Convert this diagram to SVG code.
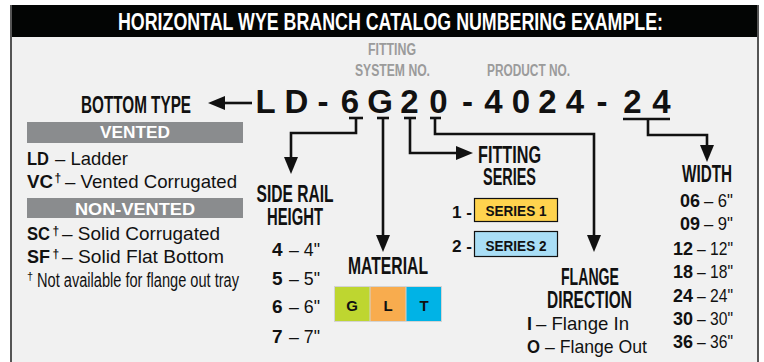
<svg xmlns="http://www.w3.org/2000/svg" width="764" height="362" viewBox="0 0 764 362">
<style>
.hd{font-family:"Liberation Sans",Arial,sans-serif;font-weight:bold;font-size:23px;fill:#111}
.gr{font-family:"Liberation Sans",Arial,sans-serif;font-weight:bold;font-size:16px;fill:#9b9b9b}
.tx{font-family:"Liberation Sans",Arial,sans-serif;font-size:19px;fill:#111}
.tb{font-family:"Liberation Sans",Arial,sans-serif;font-size:19px;font-weight:bold;fill:#111}
.sup{font-family:"Liberation Sans",Arial,sans-serif;font-size:12px;font-weight:bold;fill:#111}
.code{font-family:"Liberation Sans",Arial,sans-serif;font-weight:bold;font-size:33px;fill:#111}
.bar{font-family:"Liberation Sans",Arial,sans-serif;font-weight:bold;font-size:16px;fill:#fff}
.ser{font-family:"Liberation Sans",Arial,sans-serif;font-weight:bold;font-size:14px;fill:#111}
.ln{fill:none;stroke:#111;stroke-width:2.6}
</style>
<defs>
<marker id="ah" markerUnits="userSpaceOnUse" markerWidth="17" markerHeight="14" refX="0" refY="7" orient="auto" viewBox="0 0 17 14">
<path d="M0,0 L17,7 L0,14 z" fill="#111"/>
</marker>
</defs>
<rect x="0" y="0" width="764" height="362" fill="#fff"/>
<rect x="11" y="5" width="747" height="357" fill="#f1f1f1"/>
<rect x="11" y="5" width="747" height="32" fill="#030504"/>
<line x1="11" y1="5" x2="11" y2="362" stroke="#555" stroke-width="2"/>
<line x1="758" y1="5" x2="758" y2="362" stroke="#555" stroke-width="2"/>
<g id="title">
<text transform="scale(0.75,1)" x="157.33" y="30" font-family="Liberation Sans,Arial,sans-serif" font-weight="bold" font-size="23.5" fill="#fff" textLength="726.7" lengthAdjust="spacingAndGlyphs">HORIZONTAL WYE BRANCH CATALOG NUMBERING EXAMPLE:</text>
</g>
<g id="labels-top">
<text class="gr" x="368" y="55" textLength="48" lengthAdjust="spacingAndGlyphs">FITTING</text>
<text class="gr" x="355" y="76" textLength="75" lengthAdjust="spacingAndGlyphs">SYSTEM NO.</text>
<text class="gr" x="487" y="76" textLength="83" lengthAdjust="spacingAndGlyphs">PRODUCT NO.</text>
</g>
<g id="code">
<text class="code" y="113" text-anchor="middle" x="265.5 296.5 323 350 380 409.5 438.5 467.5 493.5 521 547.5 575 602 632.5 661.5">LD-6G20-4024-24</text>
</g>
<g id="connectors">
<path class="ln" d="M252,103 H225" marker-end="url(#ah)"/>
<line class="ln" x1="349" y1="118" x2="363" y2="118"/>
<path class="ln" d="M356,118 V133 H291 V157" marker-end="url(#ah)"/>
<line class="ln" x1="377" y1="118" x2="389" y2="118"/>
<path class="ln" d="M383,118 V235" marker-end="url(#ah)"/>
<line class="ln" x1="404" y1="118" x2="416" y2="118"/>
<path class="ln" d="M410,118 V153 H456" marker-end="url(#ah)"/>
<line class="ln" x1="430" y1="118" x2="441" y2="118"/>
<path class="ln" d="M435,118 V134 H594 V235" marker-end="url(#ah)"/>
<line class="ln" x1="623" y1="119" x2="670" y2="119"/>
<path class="ln" d="M648,119 V135 H707 V145" marker-end="url(#ah)"/>
</g>
<g id="bottom-type">
<text class="hd" x="81" y="113" textLength="110" lengthAdjust="spacingAndGlyphs">BOTTOM TYPE</text>
<rect x="27" y="122" width="216" height="21" fill="#8a8c8e"/>
<text class="bar" x="135" y="138" text-anchor="middle" textLength="70" lengthAdjust="spacingAndGlyphs">VENTED</text>
<text class="tb" x="27" y="165" textLength="22" lengthAdjust="spacingAndGlyphs">LD</text>
<text class="tx" x="55" y="165" textLength="73" lengthAdjust="spacingAndGlyphs">– Ladder</text>
<text class="tb" x="27" y="188" textLength="26" lengthAdjust="spacingAndGlyphs">VC</text>
<text class="sup" x="54.5" y="182">†</text>
<text class="tx" x="65" y="188" textLength="172" lengthAdjust="spacingAndGlyphs">– Vented Corrugated</text>
<rect x="27" y="198" width="216" height="20" fill="#8a8c8e"/>
<text class="bar" x="135" y="215" text-anchor="middle" textLength="120" lengthAdjust="spacingAndGlyphs">NON-VENTED</text>
<text class="tb" x="27" y="240" textLength="23" lengthAdjust="spacingAndGlyphs">SC</text>
<text class="sup" x="52.5" y="235">†</text>
<text class="tx" x="62" y="240" textLength="158" lengthAdjust="spacingAndGlyphs">– Solid Corrugated</text>
<text class="tb" x="27" y="263" textLength="23" lengthAdjust="spacingAndGlyphs">SF</text>
<text class="sup" x="52.5" y="258">†</text>
<text class="tx" x="62" y="263" textLength="162" lengthAdjust="spacingAndGlyphs">– Solid Flat Bottom</text>
<text class="tx" x="27" y="280" style="font-size:11px">†</text>
<text class="tx" x="37" y="287" style="font-size:20px" textLength="202" lengthAdjust="spacingAndGlyphs">Not available for flange out tray</text>
</g>
<g id="side-rail-height">
<text class="hd" x="295" y="202" text-anchor="middle" textLength="77" lengthAdjust="spacingAndGlyphs">SIDE RAIL</text>
<text class="hd" x="295" y="225" text-anchor="middle" textLength="56" lengthAdjust="spacingAndGlyphs">HEIGHT</text>
<text class="tb" x="272" y="256">4</text><text class="tx" x="289" y="256" textLength="31" lengthAdjust="spacingAndGlyphs">– 4"</text>
<text class="tb" x="272" y="285">5</text><text class="tx" x="289" y="285" textLength="31" lengthAdjust="spacingAndGlyphs">– 5"</text>
<text class="tb" x="272" y="313">6</text><text class="tx" x="289" y="313" textLength="31" lengthAdjust="spacingAndGlyphs">– 6"</text>
<text class="tb" x="272" y="343">7</text><text class="tx" x="289" y="343" textLength="31" lengthAdjust="spacingAndGlyphs">– 7"</text>
</g>
<g id="material">
<text class="hd" x="388" y="274" text-anchor="middle" textLength="80" lengthAdjust="spacingAndGlyphs">MATERIAL</text>
<rect x="334" y="286" width="108" height="36" fill="#d3d3d3"/>
<rect x="335" y="287" width="34.5" height="34" fill="#bed630"/>
<rect x="370.5" y="287" width="35" height="34" fill="#f8ac4e"/>
<rect x="406.5" y="287" width="34.5" height="34" fill="#00b3e6"/>
<text class="ser" style="font-size:15px" x="352" y="311" text-anchor="middle">G</text>
<text class="ser" style="font-size:15px" x="388" y="311" text-anchor="middle">L</text>
<text class="ser" style="font-size:15px" x="424" y="311" text-anchor="middle">T</text>
</g>
<g id="fitting-series">
<text class="hd" x="509.5" y="163" text-anchor="middle" textLength="63" lengthAdjust="spacingAndGlyphs">FITTING</text>
<text class="hd" x="509.5" y="185" text-anchor="middle" textLength="53" lengthAdjust="spacingAndGlyphs">SERIES</text>
<text class="ser" style="font-size:16px" x="452" y="218" textLength="20" lengthAdjust="spacingAndGlyphs">1 -</text>
<rect x="474.5" y="198.5" width="83" height="23" fill="#ffd34e" stroke="#111" stroke-width="1.2"/>
<text class="ser" x="516" y="216" text-anchor="middle" textLength="61" lengthAdjust="spacingAndGlyphs">SERIES 1</text>
<text class="ser" style="font-size:16px" x="452" y="252" textLength="20" lengthAdjust="spacingAndGlyphs">2 -</text>
<rect x="474.5" y="231.5" width="83" height="25" fill="#a9def6" stroke="#111" stroke-width="1.2"/>
<text class="ser" x="516" y="251" text-anchor="middle" textLength="61" lengthAdjust="spacingAndGlyphs">SERIES 2</text>
</g>
<g id="flange-direction">
<text class="hd" x="590" y="285" text-anchor="middle" textLength="58" lengthAdjust="spacingAndGlyphs">FLANGE</text>
<text class="hd" x="589.5" y="308" text-anchor="middle" textLength="85" lengthAdjust="spacingAndGlyphs">DIRECTION</text>
<text class="tb" x="527" y="330" textLength="5" lengthAdjust="spacingAndGlyphs">I</text>
<text class="tx" x="536" y="330" textLength="93" lengthAdjust="spacingAndGlyphs">– Flange In</text>
<text class="tb" x="527" y="353" textLength="13" lengthAdjust="spacingAndGlyphs">O</text>
<text class="tx" x="545" y="353" textLength="102" lengthAdjust="spacingAndGlyphs">– Flange Out</text>
</g>
<g id="width">
<text class="hd" x="707" y="182" text-anchor="middle" textLength="50" lengthAdjust="spacingAndGlyphs">WIDTH</text>
<text class="tb" x="680" y="207" textLength="20" lengthAdjust="spacingAndGlyphs">06</text><text class="tx" x="704" y="207" textLength="29" lengthAdjust="spacingAndGlyphs">– 6"</text>
<text class="tb" x="680" y="230" textLength="20" lengthAdjust="spacingAndGlyphs">09</text><text class="tx" x="704" y="230" textLength="29" lengthAdjust="spacingAndGlyphs">– 9"</text>
<text class="tb" x="673" y="255" textLength="20" lengthAdjust="spacingAndGlyphs">12</text><text class="tx" x="697" y="255" textLength="36" lengthAdjust="spacingAndGlyphs">– 12"</text>
<text class="tb" x="673" y="278" textLength="20" lengthAdjust="spacingAndGlyphs">18</text><text class="tx" x="697" y="278" textLength="36" lengthAdjust="spacingAndGlyphs">– 18"</text>
<text class="tb" x="673" y="302" textLength="20" lengthAdjust="spacingAndGlyphs">24</text><text class="tx" x="697" y="302" textLength="36" lengthAdjust="spacingAndGlyphs">– 24"</text>
<text class="tb" x="673" y="325" textLength="20" lengthAdjust="spacingAndGlyphs">30</text><text class="tx" x="697" y="325" textLength="36" lengthAdjust="spacingAndGlyphs">– 30"</text>
<text class="tb" x="673" y="348" textLength="20" lengthAdjust="spacingAndGlyphs">36</text><text class="tx" x="697" y="348" textLength="36" lengthAdjust="spacingAndGlyphs">– 36"</text>
</g>
</svg>
